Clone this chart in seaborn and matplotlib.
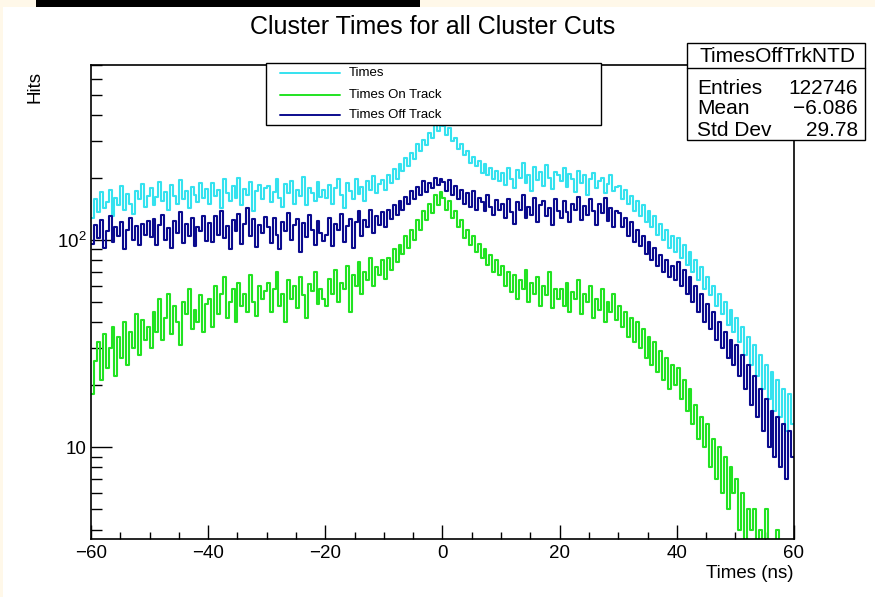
import numpy as np
import pandas as pd
import matplotlib
matplotlib.use("Agg")
import matplotlib.pyplot as plt
import seaborn as sns
from matplotlib.patches import Rectangle
from matplotlib.lines import Line2D
from matplotlib.ticker import FixedLocator, NullFormatter

sns.set_theme(style="white")
plt.rcParams["font.family"] = ["Liberation Sans", "DejaVu Sans"]
plt.rcParams["mathtext.fontset"] = "custom"
plt.rcParams["mathtext.rm"] = "Liberation Sans"
plt.rcParams["mathtext.it"] = "Liberation Sans:italic"

# ---------------- data (0.5 ns bins from -60 to 60) ----------------
x_min, x_max, bin_width = -60, 60, 0.5

times = [
    128,158,136,170,142,152,175,131,160,148,182,139,166,150,133,172,158,186,145,163,
    178,148,162,190,155,171,140,184,163,150,195,158,172,143,180,165,152,188,160,176,
    150,188,163,175,142,196,168,155,182,160,200,148,177,165,190,138,172,185,158,179,
    183,152,170,198,160,145,186,168,192,150,175,163,201,147,178,169,155,190,162,174,
    160,185,150,178,196,165,142,188,172,158,198,166,180,155,192,174,203,168,186,195,
    175,205,188,220,198,232,215,250,228,262,245,290,270,305,288,330,312,360,335,372,
    355,320,348,300,312,275,290,258,270,236,252,228,240,210,232,205,222,198,215,192,
    210,185,222,196,178,218,200,235,188,207,172,225,195,214,183,230,199,176,212,205,
    192,222,180,208,196,170,215,188,205,165,198,210,178,192,200,168,186,205,172,180,
    182,158,175,150,164,138,155,130,148,122,138,115,130,106,120,100,112,92,104,88,
    102,82,95,76,88,70,80,64,74,58,66,54,60,48,55,44,50,39,46,36,
    42,32,38,28,34,25,31,22,28,19,25,17,23,15,21,14,19,12,18,13,
]

on_track = [
    18,26,32,21,35,24,30,38,22,34,27,40,25,36,30,44,28,41,33,38,
    30,45,36,52,33,42,55,35,48,40,31,50,44,58,37,46,40,54,36,49,
    52,38,60,44,55,66,42,50,58,40,62,48,55,45,68,50,43,60,52,57,
    62,45,58,70,48,55,40,64,52,60,47,66,54,42,61,57,70,49,58,52,
    48,65,55,72,50,62,58,75,45,68,60,78,55,70,64,82,60,74,68,80,
    65,82,72,90,78,95,86,105,92,112,100,125,112,138,125,150,135,165,148,170,
    160,140,155,128,138,115,125,102,112,95,105,88,96,82,90,76,85,70,80,68,
    75,60,70,56,68,52,64,58,72,50,62,55,66,48,60,54,70,47,58,52,
    58,48,62,45,56,52,64,44,55,50,60,42,52,46,58,40,50,45,55,41,
    48,38,45,34,42,32,40,30,37,27,34,25,32,23,29,21,27,19,25,20,
    24,17,21,15,19,13,16,11,14,10,13,8,11,7,10,6,9,5,8,6,
    7,4,6,3,5,4,5,2,4,3,5,2,3,2,4,2,3,2,3,2,
]

off_track = [
    96,118,102,125,92,110,130,98,115,104,122,90,112,128,100,117,95,120,106,124,
    103,126,95,118,132,100,114,92,124,108,136,97,119,105,128,94,116,110,131,99,
    121,98,130,106,138,102,117,90,125,111,134,96,120,143,104,126,93,118,108,129,
    115,97,128,106,90,122,110,135,100,118,127,88,121,103,132,112,95,124,108,99,
    106,128,94,120,112,133,98,117,126,92,122,138,104,125,115,140,108,130,118,136,
    115,140,126,148,132,155,140,162,150,172,158,180,165,192,170,188,178,200,185,196,
    190,172,195,165,182,158,175,150,168,145,172,140,160,152,138,165,145,132,156,140,
    150,128,158,136,120,152,140,165,128,145,132,160,122,148,155,130,142,118,158,138,
    128,155,136,122,150,140,162,125,146,132,158,138,118,150,135,160,124,142,115,138,
    135,115,128,104,122,98,112,94,105,86,98,80,92,75,85,70,80,66,75,64,
    78,60,72,55,66,50,60,45,55,40,49,37,45,33,40,30,36,27,33,25,
    31,22,28,19,25,16,22,14,19,12,17,10,15,9,14,8,13,7,12,9,
]

series_labels = ["Times", "Times On Track", "Times Off Track"]
series_colors = ["#35e2ef", "#22e322", "#0b0b8e"]

stats_title = "TimesOffTrkNTD"
stats_names = ["Entries", "Mean", "Std Dev"]
stats_values = ["122746", "\u22126.086", "29.78"]

x_major = [-60, -40, -20, 0, 20, 40, 60]
y_major = [10, 100]
y_major_labels = ["10", "$10^{2}$"]

# ---------------- figure ----------------
W, H = 875, 597
def fx(px):
    return px / W
def fy(py):
    return 1 - py / H

fig = plt.figure(figsize=(W / 100, H / 100), dpi=100)
fig.patch.set_facecolor("white")

L, R, T, B = 91, 794, 65, 539
ax = fig.add_axes([fx(L), fy(B), (R - L) / W, (B - T) / H])
ax.set_facecolor("white")

n_bins = len(times)
centers = [x_min + bin_width * (i + 0.5) for i in range(n_bins)]

for vals, col in zip([times, on_track, off_track], series_colors):
    df = pd.DataFrame({"t": centers, "n": vals})
    sns.histplot(data=df, x="t", weights="n", binwidth=bin_width,
                 binrange=(x_min, x_max), element="step", fill=False,
                 color=col, linewidth=1.5, ax=ax)

ax.set_yscale("log")
ax.set_xlim(x_min, x_max)
ax.set_ylim(3.6, 700)
ax.set_xlabel("")
ax.set_ylabel("")

ax.xaxis.set_major_locator(FixedLocator(x_major))
ax.xaxis.set_minor_locator(FixedLocator(np.arange(-60, 61, 5)))
ax.set_xticklabels([f"{v}".replace("-", "\u2212") for v in x_major])
ax.yaxis.set_major_locator(FixedLocator(y_major))
ax.set_yticklabels(y_major_labels)
ymin = [4, 5, 6, 7, 8, 9, 20, 30, 40, 50, 60, 70, 80, 90, 200, 300, 400, 500, 600, 700]
ax.yaxis.set_minor_locator(FixedLocator(ymin))
ax.yaxis.set_minor_formatter(NullFormatter())

ax.tick_params(axis="x", which="major", direction="in", length=10, width=1,
               colors="black", labelsize=13.5, pad=4, bottom=True, top=False)
ax.tick_params(axis="x", which="minor", direction="in", length=5, width=1,
               colors="black", bottom=True, top=False)
ax.tick_params(axis="y", which="major", direction="in", length=15, width=1,
               colors="black", labelsize=13.5, pad=3, left=True, right=False)
ax.tick_params(axis="y", which="minor", direction="in", length=8, width=1,
               colors="black", left=True, right=False)
for s in ax.spines.values():
    s.set_color("black")
    s.set_linewidth(1.2)

# titles
fig.text(fx(433), fy(27), "Cluster Times for all Cluster Cuts", ha="center",
         va="center", fontsize=18, color="black")
fig.text(fx(794), fy(573), "Times (ns)", ha="right", va="center",
         fontsize=13.5, color="black")
fig.text(fx(35), fy(87), "Hits", ha="center", va="center", rotation=90,
         fontsize=13.5, color="black")

# legend box
fig.add_artist(Rectangle((fx(266), fy(125)), (601 - 266) / W, (125 - 63) / H,
                         transform=fig.transFigure, facecolor="white",
                         edgecolor="black", linewidth=1.0, zorder=10))
for i, (lab, col) in enumerate(zip(series_labels, series_colors)):
    yy = [73, 95, 115][i]
    fig.add_artist(Line2D([fx(280), fx(340)], [fy(yy), fy(yy)],
                          transform=fig.transFigure, color=col,
                          linewidth=1.4, zorder=11))
    fig.text(fx(349), fy(yy), lab, ha="left", va="center", fontsize=9.5,
             color="black", zorder=11)

# stats box
fig.add_artist(Rectangle((fx(687), fy(140)), (865 - 687) / W, (140 - 43) / H,
                         transform=fig.transFigure, facecolor="white",
                         edgecolor="black", linewidth=1.0, zorder=10))
fig.add_artist(Line2D([fx(687), fx(865)], [fy(68), fy(68)],
                      transform=fig.transFigure, color="black",
                      linewidth=1.0, zorder=11))
fig.text(fx(777), fy(56), stats_title, ha="center", va="center",
         fontsize=15, color="black", zorder=11)
for i, (n, v) in enumerate(zip(stats_names, stats_values)):
    yy = [88, 109, 130][i]
    fig.text(fx(697), fy(yy), n, ha="left", va="center", fontsize=15,
             color="black", zorder=11)
    fig.text(fx(858), fy(yy), v, ha="right", va="center", fontsize=15,
             color="black", zorder=11)

# screenshot margins (cream strip and black bar at the top)
cream = "#fff8e9"
fig.add_artist(Rectangle((0, fy(7)), 1, 7 / H, transform=fig.transFigure,
                         facecolor=cream, edgecolor="none", zorder=20))
fig.add_artist(Rectangle((0, 0), 3 / W, 1, transform=fig.transFigure,
                         facecolor=cream, edgecolor="none", zorder=20))
fig.add_artist(Rectangle((fx(36), fy(7)), (420 - 36) / W, 7 / H,
                         transform=fig.transFigure, facecolor="black",
                         edgecolor="none", zorder=21))

fig.savefig("out.png", dpi=100, facecolor=fig.get_facecolor())
